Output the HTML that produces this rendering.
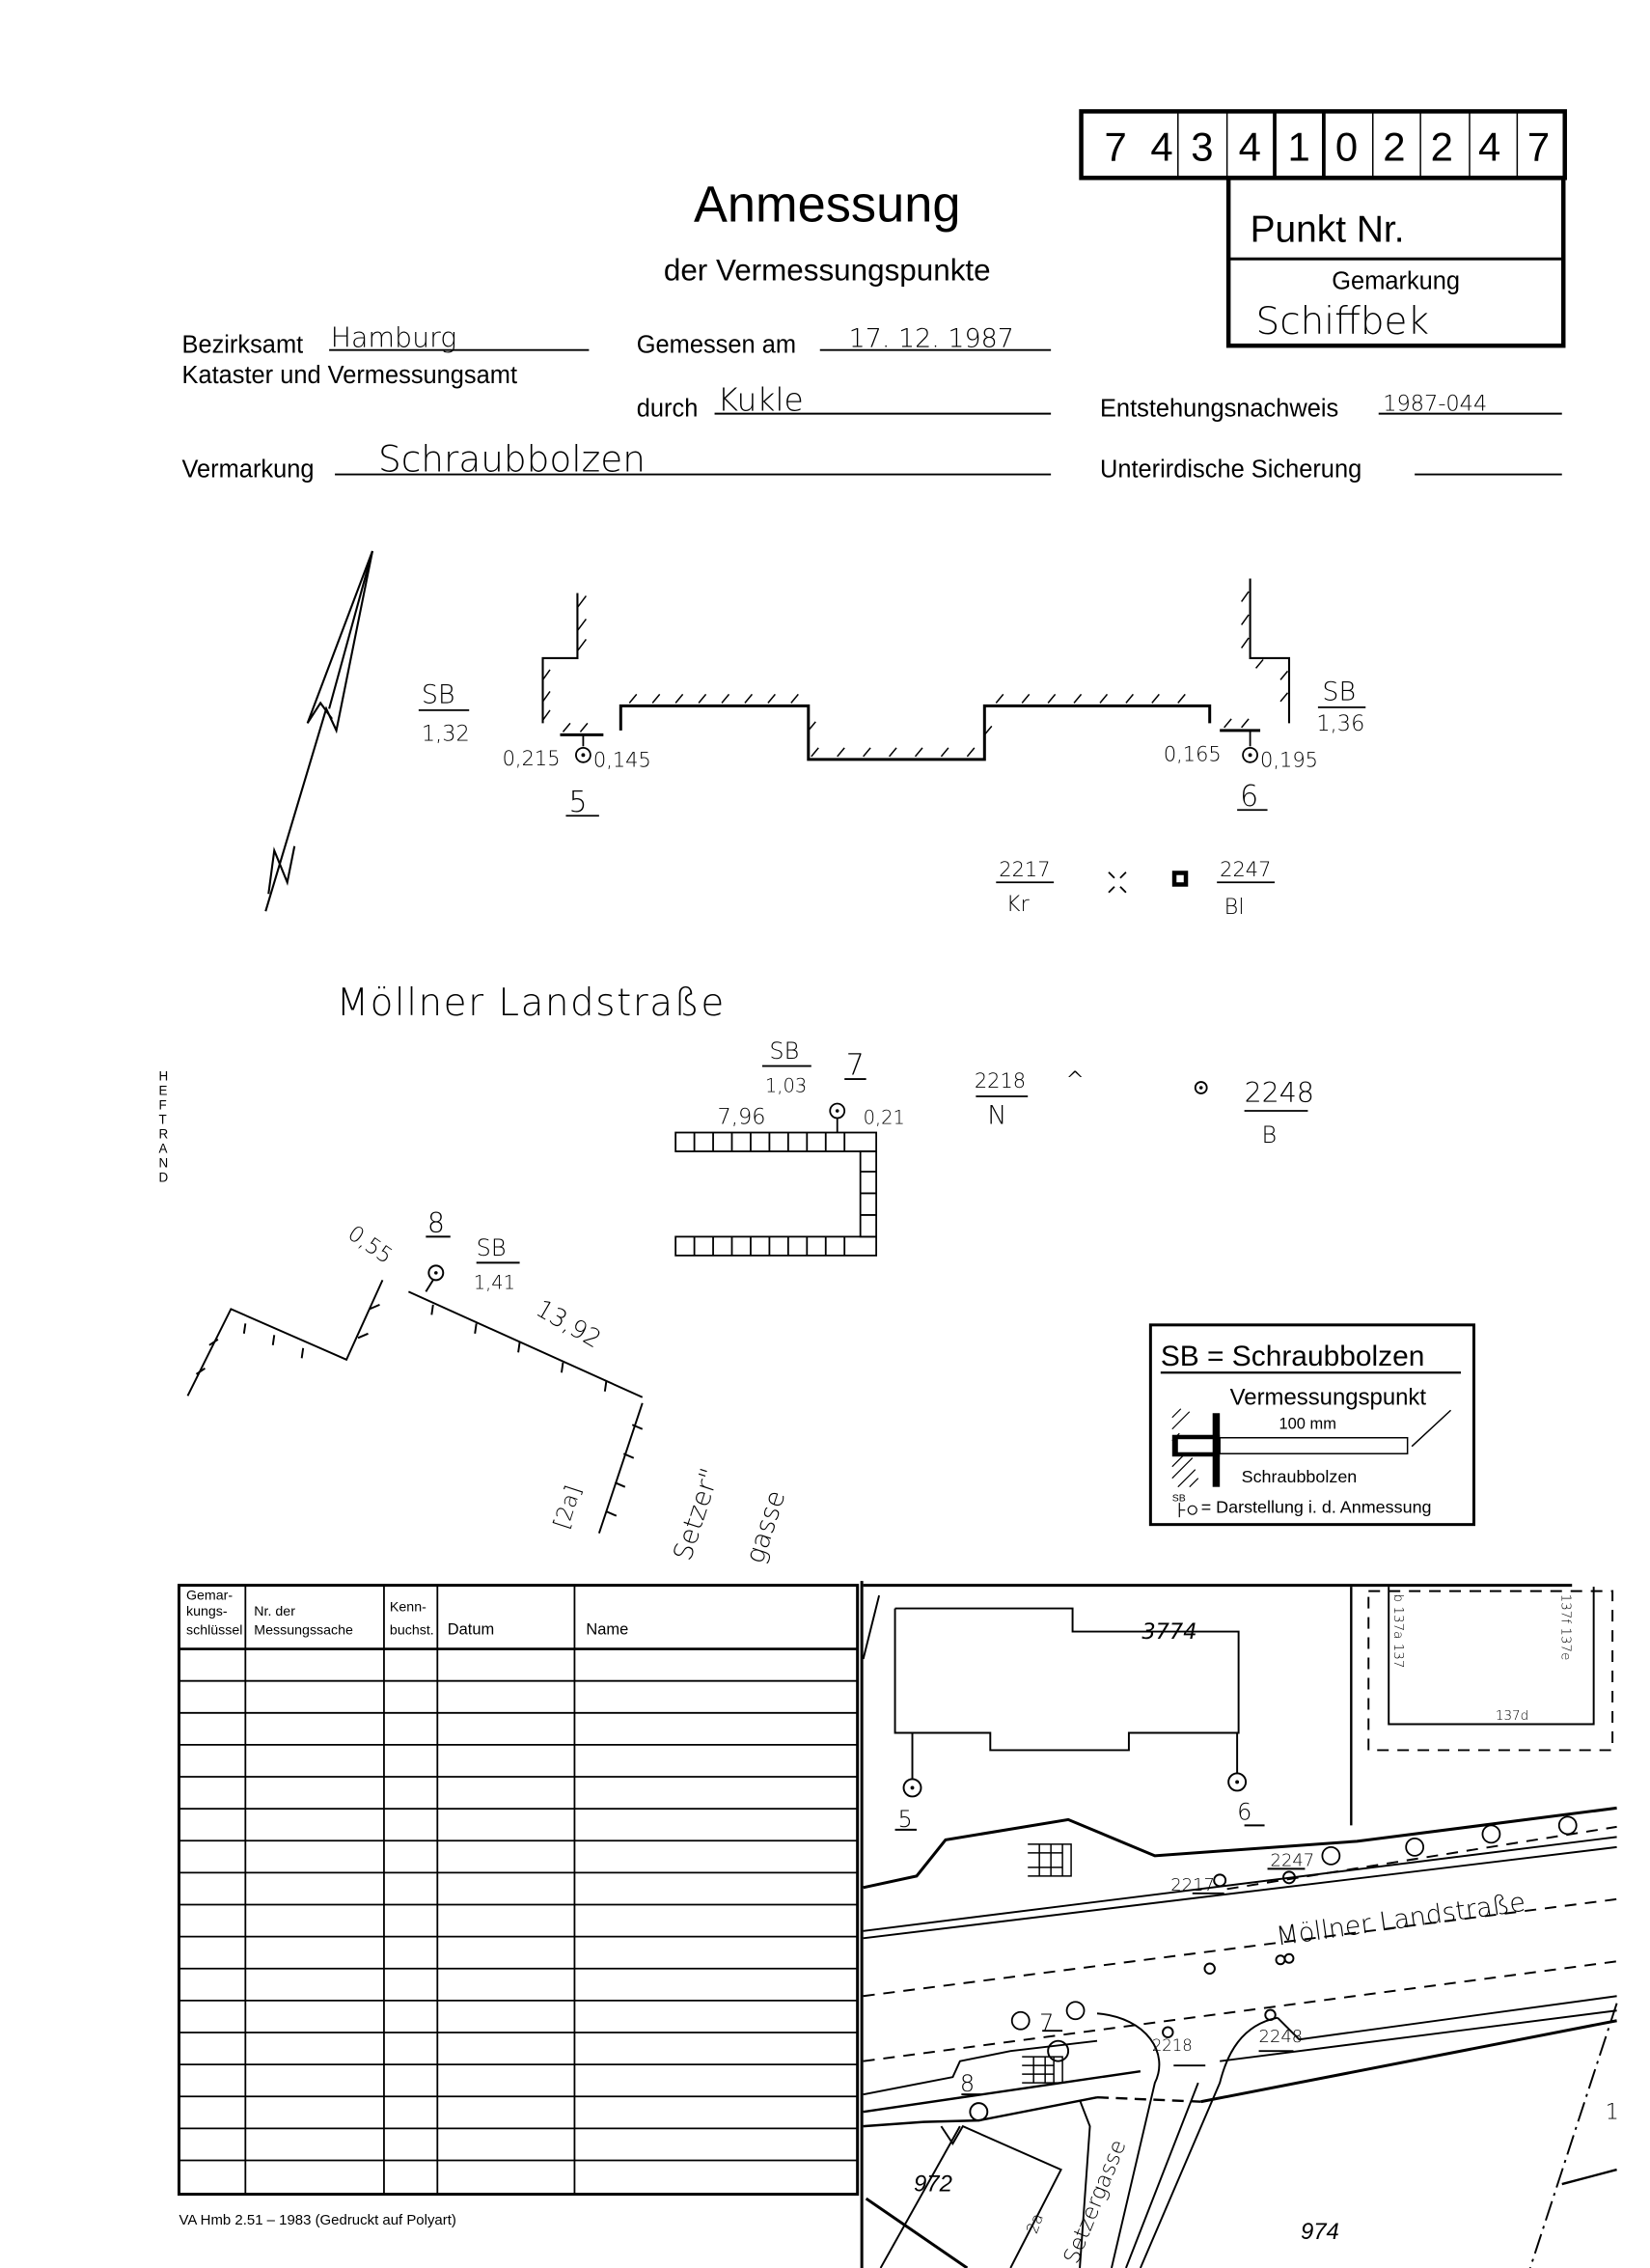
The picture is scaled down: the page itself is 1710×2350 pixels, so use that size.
<!DOCTYPE html>
<html><head><meta charset="utf-8"><style>
html,body{margin:0;padding:0;background:#fff;}
svg{display:block;}
.p{font-family:"Liberation Sans Narrow","Liberation Sans",sans-serif;fill:#000;}
.h{font-family:"DejaVu Sans","Liberation Sans",sans-serif;fill:#000;font-weight:200;}
</style></head><body>
<svg width="1710" height="2350" viewBox="0 0 1143 1568" preserveAspectRatio="none" xmlns="http://www.w3.org/2000/svg">
<rect width="1143" height="1568" fill="#fff"/>
<g stroke="#000" fill="none">
<!-- number box -->
<rect x="749" y="77" width="335" height="46" stroke-width="3"/>
<g stroke-width="1">
<line x1="816" y1="78" x2="816" y2="122"/><line x1="850" y1="78" x2="850" y2="122"/>
<line x1="951" y1="78" x2="951" y2="122"/><line x1="984" y1="78" x2="984" y2="122"/>
<line x1="1018" y1="78" x2="1018" y2="122"/><line x1="1051" y1="78" x2="1051" y2="122"/>
</g>
<line x1="883" y1="78" x2="883" y2="122" stroke-width="2.5"/>
<line x1="917" y1="78" x2="917" y2="122" stroke-width="2.5"/>
<rect x="851" y="123" width="232" height="116" stroke-width="3"/>
<line x1="851" y1="179" x2="1083" y2="179" stroke-width="2"/>
<!-- form lines -->
<g stroke-width="1.3">
<line x1="228" y1="242" x2="408" y2="242"/>
<line x1="568" y1="242" x2="728" y2="242"/>
<line x1="495" y1="286" x2="728" y2="286"/>
<line x1="955" y1="286" x2="1082" y2="286"/>
<line x1="232" y1="328" x2="728" y2="328"/>
<line x1="980" y1="328" x2="1082" y2="328"/>
</g>
</g>
<g class="p">
<g font-family="Liberation Sans" font-size="28" font-weight="300">
<text x="765" y="111">7</text><text x="797" y="111">4</text><text x="825" y="111">3</text><text x="858" y="111">4</text><text x="892" y="111">1</text><text x="925" y="111">0</text><text x="958" y="111">2</text><text x="991" y="111">2</text><text x="1024" y="111">4</text><text x="1058" y="111">7</text>
</g>
<text x="866" y="167" font-size="26" font-family="Liberation Sans">Punkt Nr.</text>
<text x="967" y="200" font-size="17" text-anchor="middle" font-family="Liberation Sans">Gemarkung</text>
<text x="573" y="153" font-size="35" text-anchor="middle" font-family="Liberation Sans">Anmessung</text>
<text x="573" y="194" font-size="21" text-anchor="middle" font-family="Liberation Sans">der Vermessungspunkte</text>
<text x="126" y="244" font-size="17" font-family="Liberation Sans">Bezirksamt</text>
<text x="126" y="265" font-size="17" font-family="Liberation Sans">Kataster und Vermessungsamt</text>
<text x="441" y="244" font-size="17" font-family="Liberation Sans">Gemessen am</text>
<text x="441" y="288" font-size="17" font-family="Liberation Sans">durch</text>
<text x="762" y="288" font-size="17" font-family="Liberation Sans">Entstehungsnachweis</text>
<text x="126" y="330" font-size="17" font-family="Liberation Sans">Vermarkung</text>
<text x="762" y="330" font-size="17" font-family="Liberation Sans">Unterirdische Sicherung</text>
</g>
<g class="h">
<text x="870" y="231" font-size="26">Schiffbek</text>
<text x="229" y="240" font-size="19">Hamburg</text>
<text x="588" y="240" font-size="18">17. 12. 1987</text>
<text x="497" y="284" font-size="22">Kukle</text>
<text x="958" y="284" font-size="15">1987-044</text>
<text x="262" y="326" font-size="25">Schraubbolzen</text>
</g>

<!-- North arrow -->
<g stroke="#000" fill="none" stroke-width="1.4">
<polyline points="184,630 226,490 233,505 258,381 213,500 222,486 230,497"/>
<polyline points="258,381 228,490"/>
<polyline points="186,618 190,588 199,610 204,585"/>
</g>

<!-- Building outline 1 -->
<g stroke="#000" fill="none" stroke-width="1.4">
<polyline points="400,410 400,455 376,455 376,500"/>
<line x1="388" y1="508" x2="418" y2="508" stroke-width="2"/>
<polyline points="430,505 430,488 560,488 560,525 682,525 682,488 838,488 838,500" stroke-width="2"/>
<line x1="845" y1="505" x2="873" y2="505" stroke-width="2"/>
<polyline points="893,500 893,455 866,455 866,400"/>
</g>
<g stroke="#000" stroke-width="1" fill="none">
<path d="M400,420l6,-8M400,436l6,-8M400,450l6,-8M376,470l5,-7M376,485l5,-7M376,498l5,-7M390,506l5,-6M402,506l5,-6M436,486l5,-6M452,486l5,-6M468,486l5,-6M484,486l5,-6M500,486l5,-6M516,486l5,-6M532,486l5,-6M548,486l5,-6M560,505l5,-6M562,523l5,-6M580,523l5,-6M598,523l5,-6M616,523l5,-6M634,523l5,-6M652,523l5,-6M670,523l5,-6M682,508l5,-6M690,486l5,-6M708,486l5,-6M726,486l5,-6M744,486l5,-6M762,486l5,-6M780,486l5,-6M798,486l5,-6M816,486l5,-6M848,503l5,-6M860,503l5,-6M887,470l5,-6M887,485l5,-6M870,462l5,-6M860,416l5,-7M860,432l5,-7M860,448l5,-7"/>
</g>
<!-- points 5,6 -->
<g stroke="#000" fill="none" stroke-width="1.2">
<line x1="404" y1="508" x2="404" y2="516"/><circle cx="404" cy="522" r="5"/>
<line x1="866" y1="505" x2="866" y2="516"/><circle cx="866" cy="522" r="5"/>
<line x1="290" y1="491" x2="325" y2="491"/><line x1="913" y1="489" x2="946" y2="489"/>
<line x1="392" y1="564" x2="415" y2="564"/><line x1="857" y1="560" x2="878" y2="560"/>
<line x1="690" y1="610" x2="730" y2="610"/><line x1="843" y1="610" x2="883" y2="610"/>
</g>
<circle cx="404" cy="522" r="1.3"/><circle cx="866" cy="522" r="1.3"/>
<g class="h">
<text x="292" y="486" font-size="18">SB</text><text x="292" y="512" font-size="15">1,32</text>
<text x="348" y="529" font-size="14">0,215</text><text x="411" y="530" font-size="14">0,145</text>
<text x="394" y="561" font-size="20">5</text>
<text x="916" y="484" font-size="18">SB</text><text x="912" y="505" font-size="15">1,36</text>
<text x="806" y="526" font-size="14">0,165</text><text x="873" y="530" font-size="14">0,195</text>
<text x="859" y="557" font-size="20">6</text>
<text x="692" y="606" font-size="14">2217</text><text x="697" y="630" font-size="15">Kr</text>
<text x="845" y="606" font-size="14">2247</text><text x="848" y="632" font-size="15">Bl</text>
</g>
<g stroke="#000" stroke-width="1.2" fill="none"><path d="M768,603l4,4M780,603l-4,4M768,617l4,-4M780,617l-4,-4"/></g>
<rect x="812" y="602" width="11" height="11" fill="#000"/><rect x="815" y="605" width="5" height="5" fill="#fff"/>

<!-- Möllner Landstraße -->
<text class="h" x="233" y="702" font-size="26" letter-spacing="1">Möllner Landstraße</text>
<!-- point 7 area -->
<g class="h">
<text x="533" y="732" font-size="16">SB</text><text x="530" y="755" font-size="13">1,03</text>
<text x="586" y="743" font-size="20">7</text>
<text x="497" y="777" font-size="15">7,96</text><text x="598" y="777" font-size="13">0,21</text>
<text x="675" y="752" font-size="14">2218</text><text x="684" y="777" font-size="18">N</text>
<text x="738" y="752" font-size="16">^</text>
<text x="862" y="762" font-size="19">2248</text><text x="874" y="790" font-size="16">B</text>
</g>
<g stroke="#000" fill="none" stroke-width="1.2">
<line x1="528" y1="737" x2="562" y2="737"/><line x1="585" y1="746" x2="600" y2="746"/>
<line x1="676" y1="758" x2="712" y2="758"/><line x1="862" y1="768" x2="906" y2="768"/>
<circle cx="580" cy="768" r="5"/><line x1="580" y1="773" x2="580" y2="783"/>
<circle cx="832" cy="752" r="4"/>
<rect x="468" y="783" width="139" height="13"/>
<rect x="468" y="855" width="139" height="13"/>
<rect x="596" y="796" width="11" height="59"/>
<path d="M481,783v13M494,783v13M507,783v13M520,783v13M533,783v13M546,783v13M559,783v13M572,783v13M585,783v13M481,855v13M494,855v13M507,855v13M520,855v13M533,855v13M546,855v13M559,855v13M572,855v13M585,855v13M596,810h11M596,825h11M596,840h11"/>
</g>
<circle cx="832" cy="752" r="1.2"/><circle cx="580" cy="768" r="1.2"/>
<!-- HEFTRAND -->
<g class="p" font-size="9" font-family="Liberation Sans">
<text x="110" y="747">H</text><text x="110" y="757">E</text><text x="110" y="767">F</text><text x="110" y="777">T</text><text x="110" y="787">R</text><text x="110" y="797">A</text><text x="110" y="807">N</text><text x="110" y="817">D</text>
</g>
<!-- point 8 area -->
<g stroke="#000" fill="none" stroke-width="1.3">
<polyline points="130,965 160,905 240,940 265,885"/>
<line x1="283" y1="893" x2="445" y2="966"/>
<line x1="445" y1="970" x2="415" y2="1060"/>
<path d="M136,950l6,-4M145,930l6,-4M170,915l-1,7M190,923l-1,7M210,932l-1,7M248,925l7,-3M256,905l7,-3M300,902l-1,7M330,915l-1,7M360,928l-1,7M390,942l-1,7M420,955l-1,7M438,985l7,3M432,1005l7,3M426,1025l7,3M420,1045l7,3"/>
<circle cx="302" cy="880" r="5"/><line x1="300" y1="885" x2="295" y2="893"/>
<line x1="295" y1="855" x2="312" y2="855"/><line x1="330" y1="873" x2="360" y2="873"/>
</g>
<circle cx="302" cy="880" r="1.2"/>
<g class="h">
<text x="296" y="852" font-size="19">8</text>
<text x="330" y="868" font-size="16">SB</text><text x="328" y="891" font-size="13">1,41</text>
<text transform="translate(240,855) rotate(35)" font-size="15">0,55</text>
<text transform="translate(370,908) rotate(30)" font-size="17">13,92</text>
<text transform="translate(393,1058) rotate(-72)" font-size="15">[2a]</text>
<text transform="translate(478,1080) rotate(-72)" font-size="18">Setzer"</text>
<text transform="translate(528,1082) rotate(-72)" font-size="18">gasse</text>
</g>
<!-- legend -->
<rect x="797" y="916" width="224" height="138" fill="none" stroke="#000" stroke-width="2"/>
<g class="p" font-family="Liberation Sans">
<text x="804" y="944" font-size="20">SB = Schraubbolzen</text>
<text x="852" y="971" font-size="16">Vermessungspunkt</text>
<text x="886" y="988" font-size="11">100 mm</text>
<text x="860" y="1025" font-size="12">Schraubbolzen</text>
<text x="812" y="1038" font-size="7">SB</text>
<text x="832" y="1046" font-size="12">= Darstellung i. d. Anmessung</text>
</g>
<line x1="804" y1="949" x2="1012" y2="949" stroke="#000" stroke-width="1.5"/>
<g stroke="#000" fill="none">
<path d="M812,980l6,-6M812,988l12,-12M812,996l5,-5M812,1014l8,-8M812,1022l14,-14M816,1028l12,-12M824,1028l6,-6" stroke-width="0.8"/>
<rect x="812" y="992" width="33" height="15" fill="#000" stroke="none"/>
<rect x="816" y="995" width="29" height="9" fill="#fff" stroke="none"/>
<rect x="840" y="977" width="5" height="51" fill="#000" stroke="none"/>
<rect x="845" y="994" width="130" height="11" stroke-width="1"/>
<line x1="1005" y1="975" x2="978" y2="1000" stroke-width="1"/>
<path d="M817,1039v10M817,1044h4M826,1044m-3,0a3,3 0 1,0 6,0a3,3 0 1,0 -6,0" stroke-width="0.8"/>
</g>

<!-- table -->
<g stroke="#000" fill="none">
<rect x="124" y="1096" width="470" height="421" stroke-width="2"/>
<g stroke-width="1.2">
<line x1="170" y1="1096" x2="170" y2="1517"/><line x1="266" y1="1096" x2="266" y2="1517"/>
<line x1="303" y1="1096" x2="303" y2="1517"/><line x1="398" y1="1096" x2="398" y2="1517"/>
<line x1="124" y1="1140" x2="594" y2="1140" stroke-width="1.8"/>
<path d="M124,1162.1h470M124,1184.2h470M124,1206.3h470M124,1228.4h470M124,1250.5h470M124,1272.6h470M124,1294.7h470M124,1316.8h470M124,1338.9h470M124,1361h470M124,1383.1h470M124,1405.2h470M124,1427.3h470M124,1449.4h470M124,1471.5h470M124,1493.6h470"/>
</g>
</g>
<g class="p" font-size="9.5">
<text x="129" y="1106">Gemar-</text><text x="129" y="1117">kungs-</text><text x="129" y="1130">schlüssel</text>
<text x="176" y="1117">Nr. der</text><text x="176" y="1130">Messungssache</text>
<text x="270" y="1114">Kenn-</text><text x="270" y="1130">buchst.</text>
<text x="310" y="1130" font-size="11">Datum</text>
<text x="406" y="1130" font-size="11">Name</text>
</g>
<text class="p" x="124" y="1538" font-size="10" font-family="Liberation Sans">VA Hmb 2.51 – 1983 (Gedruckt auf Polyart)</text>

<!-- map -->
<g stroke="#000" fill="none" stroke-width="1.3">
<line x1="597" y1="1093" x2="597" y2="1568" stroke-width="2"/>
<line x1="598" y1="1096" x2="1089" y2="1096" stroke-width="2"/>
<line x1="609" y1="1103" x2="598" y2="1147"/>
<polyline points="620,1112 743,1112 743,1128 858,1128 858,1198 782,1198 782,1210 686,1210 686,1198 620,1198 620,1112"/>
<circle cx="632" cy="1236" r="6"/><line x1="632" y1="1198" x2="632" y2="1230"/>
<circle cx="857" cy="1232" r="6"/><line x1="857" y1="1198" x2="857" y2="1226"/>
<line x1="936" y1="1097" x2="936" y2="1262" stroke-width="1.6"/>
<rect x="948" y="1100" width="169" height="110" stroke-dasharray="8,6"/>
<polyline points="962,1097 962,1192 1104,1192 1104,1097"/>
<polyline points="598,1305 635,1297 655,1272 740,1258 800,1283 940,1273 1120,1250" stroke-width="2"/>
<line x1="598" y1="1335" x2="1120" y2="1270"/>
<line x1="598" y1="1340" x2="1120" y2="1277"/>
<line x1="850" y1="1306" x2="1120" y2="1263" stroke-dasharray="8,6"/>
<line x1="598" y1="1380" x2="1120" y2="1313" stroke-dasharray="8,6"/>
<line x1="598" y1="1425" x2="1120" y2="1356" stroke-dasharray="8,6"/>
<polyline points="598,1448 660,1436 665,1425 700,1418 760,1411" />
<line x1="598" y1="1460" x2="790" y2="1432" stroke-width="1.6"/>
<path d="M760,1392 C795,1395 810,1420 800,1440 L770,1568" />
<path d="M780,1568 L830,1440"/>
<path d="M790,1568 L845,1440 C850,1420 860,1400 885,1395"/>
<polyline points="885,1395 900,1410 1120,1380"/>
<line x1="845" y1="1425" x2="1120" y2="1390"/>
<line x1="832" y1="1453" x2="1120" y2="1397" stroke-width="2"/>
<polyline points="598,1470 640,1467 678,1466 760,1450" stroke-width="1.6"/>
<line x1="760" y1="1450" x2="832" y2="1453" stroke-dasharray="8,5" stroke-width="1.6"/>
<polyline points="748,1452 755,1470 748,1568"/>
<polyline points="652,1470 660,1482 667,1470 735,1500 700,1568"/>
<line x1="665" y1="1470" x2="610" y2="1568"/>
<line x1="600" y1="1520" x2="670" y2="1568" stroke-width="2"/>
<line x1="1120" y1="1385" x2="1060" y2="1568" stroke-dasharray="14,4,2,4"/>
<line x1="1082" y1="1510" x2="1120" y2="1500" stroke-width="1.6"/>
<circle cx="845" cy="1300" r="4"/><circle cx="893" cy="1298" r="4"/>
<circle cx="838" cy="1361" r="3.5"/><circle cx="887" cy="1355" r="3"/><circle cx="893" cy="1354" r="3"/>
<circle cx="880" cy="1393" r="3.5"/><circle cx="809" cy="1405" r="3.5"/>
<circle cx="733" cy="1418" r="7"/><circle cx="678" cy="1460" r="6"/>
<path d="M620,1265h15M862,1262h14M722,1404h14M666,1448h13M826,1309h22M878,1292h26M813,1428h22M872,1418h24"/>
<path d="M712,1275h30v22h-30M712,1281h24M712,1291h24M736,1275v22M720,1275v22M728,1275v22" stroke-width="1"/>
<path d="M708,1422h28v18h-28M708,1428h22M708,1434h22M730,1422v18M716,1422v18M724,1422v18" stroke-width="1"/>
</g>
<circle cx="632" cy="1236" r="1.3"/><circle cx="857" cy="1232" r="1.3"/>
<g stroke="#000" fill="none" stroke-width="1.2">
<circle cx="922" cy="1283" r="6"/><circle cx="980" cy="1277" r="6"/><circle cx="1033" cy="1268" r="6"/><circle cx="1086" cy="1262" r="6"/>
<circle cx="707" cy="1397" r="6"/><circle cx="745" cy="1390" r="6"/>
</g>
<g class="h">
<text x="791" y="1133" font-size="15" font-style="italic">3774</text>
<text x="622" y="1263" font-size="16">5</text>
<text x="857" y="1258" font-size="16">6</text>
<text x="880" y="1290" font-size="12">2247</text>
<text x="811" y="1307" font-size="12">2217</text>
<text transform="translate(885,1345) rotate(-8)" font-size="18">Möllner Landstraße</text>
<text x="720" y="1404" font-size="16">7</text>
<text x="665" y="1446" font-size="16">8</text>
<text x="798" y="1418" font-size="11">2218</text>
<text x="872" y="1412" font-size="12">2248</text>
<text transform="translate(746,1566) rotate(-68)" font-size="15">Setzergasse</text>
<text transform="translate(718,1545) rotate(-70)" font-size="11">2a</text>
<text x="1036" y="1189" font-size="9">137d</text>
<text transform="translate(966,1102) rotate(90)" font-size="9">b 137a 137</text>
<text transform="translate(1082,1102) rotate(90)" font-size="9">137f 137e</text>
<text x="1112" y="1465" font-size="15">1</text>
</g>
<g class="p" font-family="Liberation Sans" font-style="italic">
<text x="633" y="1515" font-size="16">972</text>
<text x="901" y="1548" font-size="16">974</text>
</g>
</svg>
</body></html>
